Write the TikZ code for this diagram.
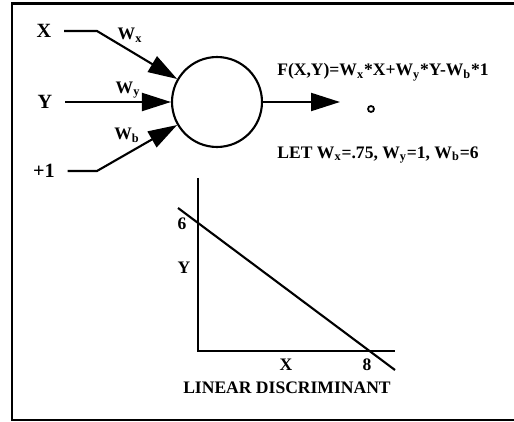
\documentclass[tikz,border=0pt]{standalone}
\usepackage{fontspec}
\setmainfont{Liberation Serif}
\usetikzlibrary{arrows.meta}

\begin{document}
\begin{tikzpicture}[
            x=0.02cm, y=-0.02cm,
            font=\fontsize{10}{12}\selectfont\bfseries,
            line width=1.2pt,
            neuron/.style={draw, circle, minimum size=1.8cm, inner sep=0pt},
            label/.style={inner sep=1pt},
            biglabel/.style={inner sep=1pt, font=\fontsize{11.5}{13}\selectfont\bfseries},
            conn/.style={-{Triangle[length=0.58cm,width=0.36cm]}}
        ]
            \useasboundingbox (0,0) rectangle (514,422);
            \draw[line width=1.4pt] (516,3.5) -- (12,3.5) -- (12,420) -- (516,420);
            \node[neuron] (unit) at (217,102) {};
            \node[biglabel] (inX) at (44,31) {X};
            \node[biglabel] (inY) at (45,102) {Y};
            \node[biglabel] (inB) at (44,171) {+1};
            \coordinate (bendX) at (97,31);
            \coordinate (bendB) at (97,171);
            \draw[conn] (inX.east) ++(10,0) -- (bendX) -- (unit.150);
            \draw[conn] (inY.east) ++(10,0) -- (unit.west);
            \draw[conn] (inB.east) ++(10,0) -- (bendB) -- (unit.210);
            \node[label] (wX) at (130,35) {W\textsubscript{x}};
            \node[label] (wY) at (128,90) {W\textsubscript{y}};
            \node[label] (wB) at (127,135) {W\textsubscript{b}};
            \coordinate (outTip) at (340,102);
            \draw[conn] (unit.east) -- (outTip);
            \node[draw, circle, minimum size=0.12cm, inner sep=0pt, line width=1pt] (outDot) at (371,109) {};
            \node[label] (func) at (383,72) {F(X,Y)=W\textsubscript{x}*X+W\textsubscript{y}*Y-W\textsubscript{b}*1};
            \node[label] (vals) at (378,155) {LET W\textsubscript{x}=.75, W\textsubscript{y}=1, W\textsubscript{b}=6};
            \coordinate (origin) at (198,351);
            \coordinate (yTop) at (198,178);
            \coordinate (xEnd) at (395,351);
            \coordinate (discA) at (178,208);
            \coordinate (discB) at (395,370);
            \draw (yTop) -- (origin) -- (xEnd);
            \draw (discA) -- (discB);
            \node[label] (ySix) at (182,224) {6};
            \node[label] (yName) at (184,268) {Y};
            \node[label] (xName) at (286,365) {X};
            \node[label] (xEight) at (367,365) {8};
            \node[label] (title) at (287,388) {LINEAR DISCRIMINANT};
        \end{tikzpicture}
\end{document}
